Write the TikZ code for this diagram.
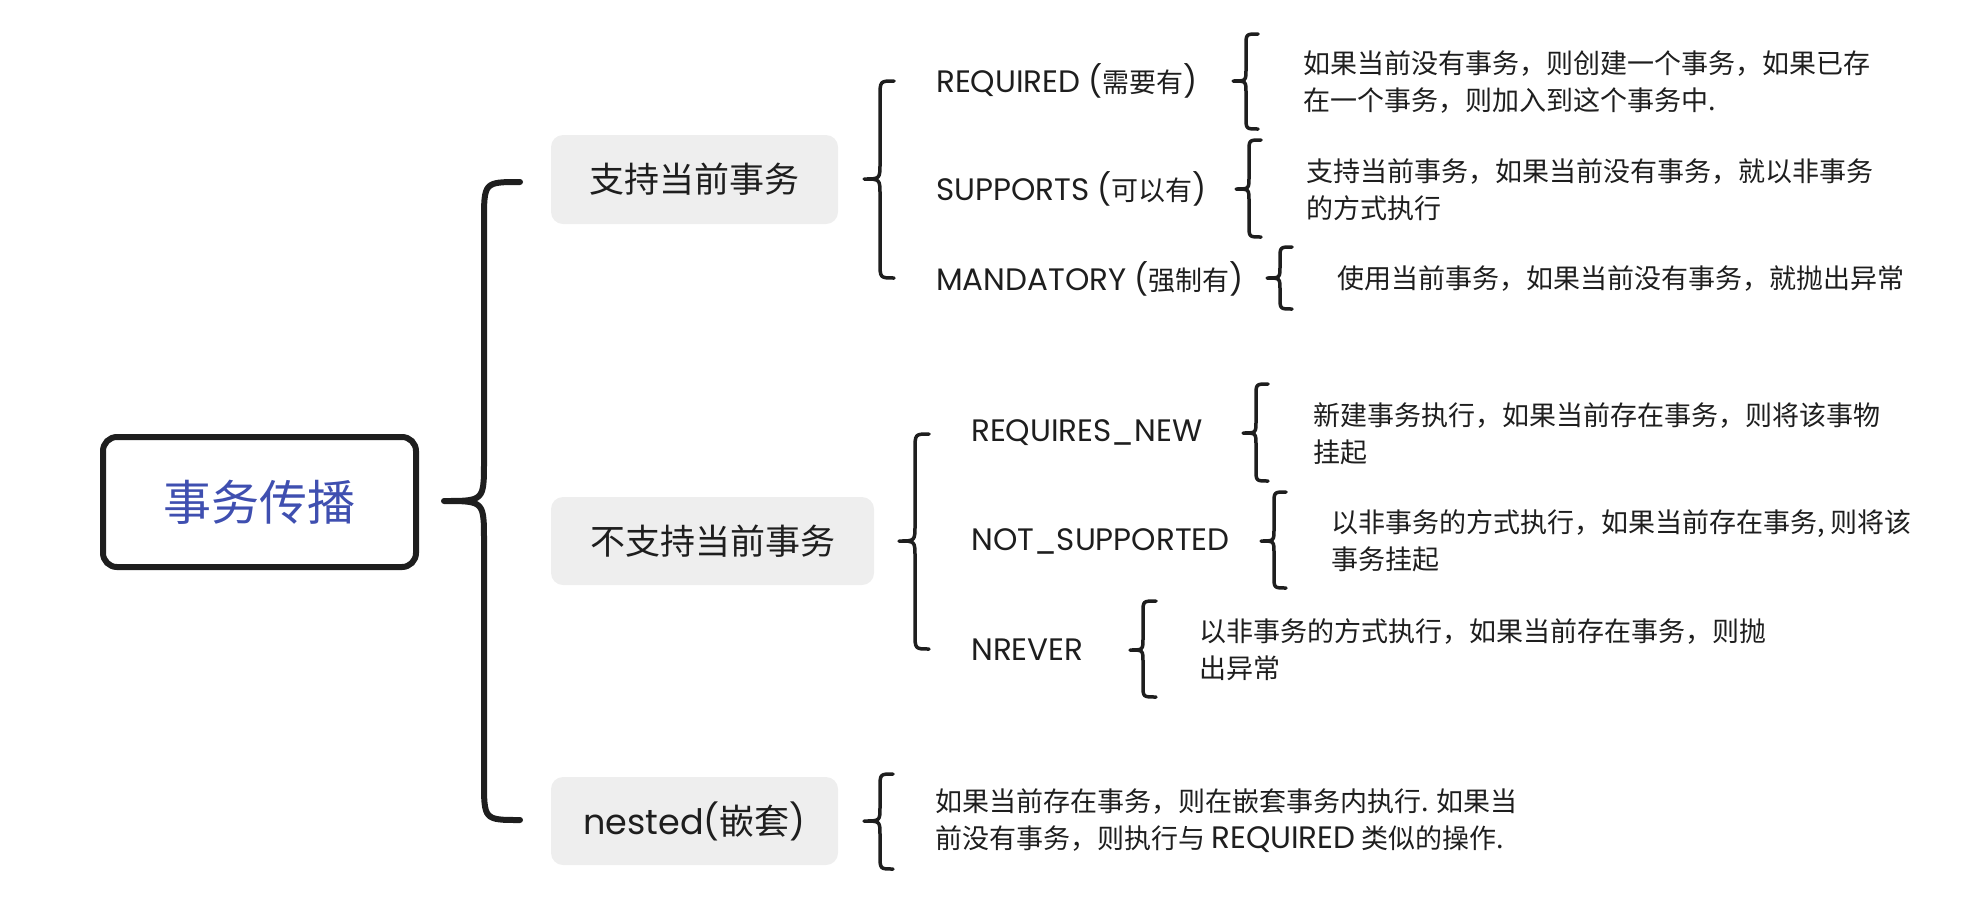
\documentclass[tikz,border=0pt]{standalone}
\usepackage{fontspec}
\setmainfont{Poppins}
\newfontfamily\cjk{Noto Sans CJK SC}
\newfontfamily\lat{Poppins}
\newcommand{\zh}[1]{{\cjk\fontsize{27}{37}\selectfont #1}}
\newcommand{\en}[1]{{\lat\fontsize{31}{37}\selectfont #1}}
\definecolor{maintext}{HTML}{3F4FB0}
\definecolor{ink}{HTML}{1E1E1E}
\definecolor{boxgray}{HTML}{EEEEEE}
\tikzset{
  mainbox/.style={draw=ink, line width=6pt, rounded corners=14pt, minimum width=313pt, minimum height=130pt, text=maintext, font={\cjk\fontsize{48}{56}\selectfont}},
  graybox/.style={fill=boxgray, rounded corners=12pt, text=ink, font={\fontsize{35}{42}\selectfont}},
  labeltext/.style={anchor=west, inner sep=0pt, text=ink, font={\fontsize{31}{37}\selectfont}},
  desctext/.style={anchor=west, inner sep=0pt, text=ink, align=left, font={\cjk\fontsize{27}{37}\selectfont}},
  bigbrace/.style={draw=ink, line width=6pt, line cap=round, line join=round},
  smallbrace/.style={draw=ink, line width=3.5pt, line cap=round, line join=round}
}
% #1 tip x, #2 tip y, #3 spine x, #4 end x, #5 top y, #6 bottom y, #7 radius, #8 style
\newcommand{\mybrace}[8]{%
  \draw[#8] (#4,#5) .. controls (#3,#5) .. (#3,#5+#7) -- (#3,#2-#7) .. controls (#3,#2) .. (#1,#2)
    .. controls (#3,#2) .. (#3,#2+#7) -- (#3,#6-#7) .. controls (#3,#6) .. (#4,#6);}
\begin{document}
\begin{tikzpicture}[x=1pt,y=-1pt]
\useasboundingbox (0,0) rectangle (1963,906);
% main node
\node[mainbox] (main) at (259.5,502) {事务传播};
% big brace
\mybrace{444}{501}{484}{520}{182}{820}{40}{bigbrace}
% group boxes
\node[graybox, minimum width=287pt, minimum height=89pt] (g1) at (694.5,179.5) {\cjk 支持当前事务};
\node[graybox, minimum width=323pt, minimum height=88pt] (g2) at (712.5,541) {\cjk 不支持当前事务};
\node[graybox, minimum width=287pt, minimum height=88pt] (g3) at (694.5,821) {nested(\cjk 嵌套\lat )};
% group braces
\mybrace{864}{179}{880}{894}{81}{278}{16}{smallbrace}
\mybrace{899}{541}{915}{929}{434}{649}{16}{smallbrace}
\mybrace{864}{821}{880}{893}{774}{869}{14}{smallbrace}
% labels
\node[labeltext] (l1) at (936,81) {REQUIRED (\zh{需要有})};
\node[labeltext] (l2) at (936,189) {SUPPORTS (\zh{可以有})};
\node[labeltext] (l3) at (936,279) {MANDATORY (\zh{强制有})};
\node[labeltext] (l4) at (971,433) {REQUIRES\_NEW};
\node[labeltext] (l5) at (971,541) {NOT\_SUPPORTED};
\node[labeltext] (l6) at (971,650) {NREVER};
% item braces
\mybrace{1233}{81}{1246}{1258}{34}{129}{12}{smallbrace}
\mybrace{1236}{189}{1249}{1261}{140}{237}{12}{smallbrace}
\mybrace{1267}{278}{1280}{1292}{247}{309}{12}{smallbrace}
\mybrace{1243}{433}{1256}{1268}{384}{481}{12}{smallbrace}
\mybrace{1261}{541}{1274}{1286}{492}{588}{12}{smallbrace}
\mybrace{1130}{650}{1143}{1156}{601}{697}{12}{smallbrace}
% descriptions
\node[desctext] (d1) at (1303,82) {如果当前没有事务，则创建一个事务，如果已存\\在一个事务，则加入到这个事务中.};
\node[desctext] (d2) at (1306,190) {支持当前事务，如果当前没有事务，就以非事务\\的方式执行};
\node[desctext] (d3) at (1337,279) {使用当前事务，如果当前没有事务，就抛出异常};
\node[desctext] (d4) at (1313,434) {新建事务执行，如果当前存在事务，则将该事物\\挂起};
\node[desctext] (d5) at (1331,541) {以非事务的方式执行，如果当前存在事务, 则将该\\事务挂起};
\node[desctext] (d6) at (1199,650) {以非事务的方式执行，如果当前存在事务，则抛\\出异常};
\node[desctext] (d7) at (935,821) {如果当前存在事务，则在嵌套事务内执行. 如果当\\前没有事务，则执行与 \en{REQUIRED} 类似的操作.};
\end{tikzpicture}
\end{document}
